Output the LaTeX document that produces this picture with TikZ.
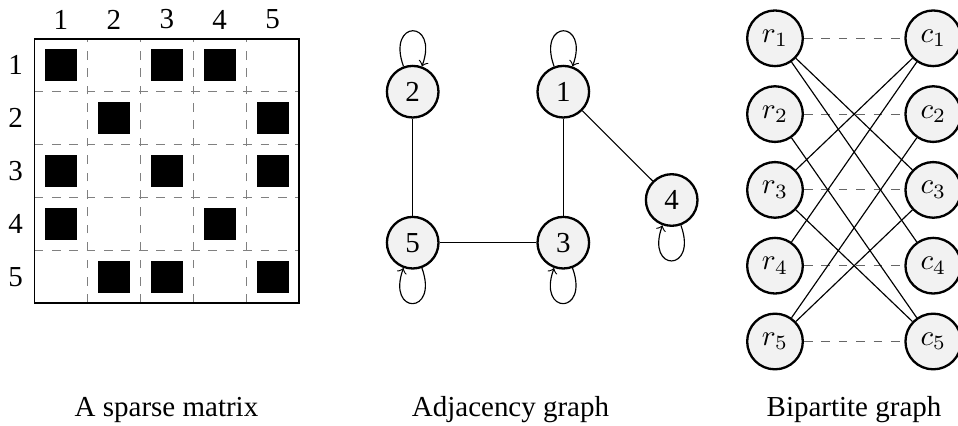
\documentclass[tikz,border=0pt]{standalone}
\usepackage[no-math]{fontspec}
\setmainfont{Liberation Serif}
\begin{document}
\begin{tikzpicture}[x=0.345pt,y=0.345pt,
  gridline/.style={dashed, black!50, line width=0.4pt},
  framebox/.style={draw=black, line width=0.6pt},
  entrybox/.style={fill=black},
  lbl/.style={inner sep=0pt},
  vnode/.style={circle, draw=black, thick, fill=black!5, minimum size=17.8pt, inner sep=0pt},
  bnode/.style={vnode, minimum size=19.2pt},
  edgeline/.style={draw=black, line width=0.4pt},
  matchline/.style={draw=black!60, dashed, line width=0.4pt},
  loopline/.style={draw=black, line width=0.4pt, ->, looseness=7},
  caption/.style={anchor=base, inner sep=0pt}]
\useasboundingbox (0,0) rectangle (958,425);
% ---------- sparse matrix ----------
\foreach \i in {1,...,4}{
  \draw[gridline] ({34.5+52.9*\i},122) -- ({34.5+52.9*\i},386.3);
  \draw[gridline] (34.5,{386.3-52.9*\i}) -- (299,{386.3-52.9*\i});
}
\draw[framebox] (34.5,122) rectangle (299,386.3);
\foreach \r/\c in {1/1,1/3,1/4,2/2,2/5,3/1,3/3,3/5,4/1,4/4,5/2,5/3,5/5}{
  \fill[entrybox] ({34.5+52.9*(\c-0.5)-16},{386.3-52.9*(\r-0.5)-16}) rectangle +(32,32);
}
\foreach \k in {1,...,5}{
  \node[lbl] (row\k) at (15.5,{386.3-52.9*(\k-0.5)}) {\k};
  \node[lbl] (col\k) at ({34.5+52.9*(\k-0.5)},405.5) {\k};
}
\node[caption] (cap1) at (166.5,8.5) {A sparse matrix};
% ---------- adjacency graph ----------
\node[vnode] (a1) at (563.3,333.3) {1};
\node[vnode] (a2) at (412.7,333.3) {2};
\node[vnode] (a3) at (563.3,182.3) {3};
\node[vnode] (a4) at (671.7,225) {4};
\node[vnode] (a5) at (412.7,182.3) {5};
\draw[edgeline] (a2) -- (a5);
\draw[edgeline] (a5) -- (a3);
\draw[edgeline] (a1) -- (a3);
\draw[edgeline] (a1) -- (a4);
\draw[loopline] (a2) to[out=110,in=70] (a2);
\draw[loopline] (a1) to[out=110,in=70] (a1);
\draw[loopline] (a5) to[out=290,in=250] (a5);
\draw[loopline] (a3) to[out=290,in=250] (a3);
\draw[loopline] (a4) to[out=290,in=250] (a4);
\node[caption] (cap2) at (510.5,8.5) {Adjacency graph};
% ---------- bipartite graph ----------
\foreach \k/\yy in {1/386.7,2/310.9,3/235.1,4/159.3,5/83.5}{
  \node[bnode] (r\k) at (775,\yy) {$r_\k$};
  \node[bnode] (c\k) at (933.3,\yy) {$c_\k$};
}
\foreach \k in {1,...,5}{ \draw[matchline] (r\k) -- (c\k); }
\foreach \a/\b in {1/3,1/4,2/5,3/1,3/5,4/1,5/2,5/3}{ \draw[edgeline] (r\a) -- (c\b); }
\node[caption] (cap3) at (854,8.5) {Bipartite graph};
\end{tikzpicture}
\end{document}
